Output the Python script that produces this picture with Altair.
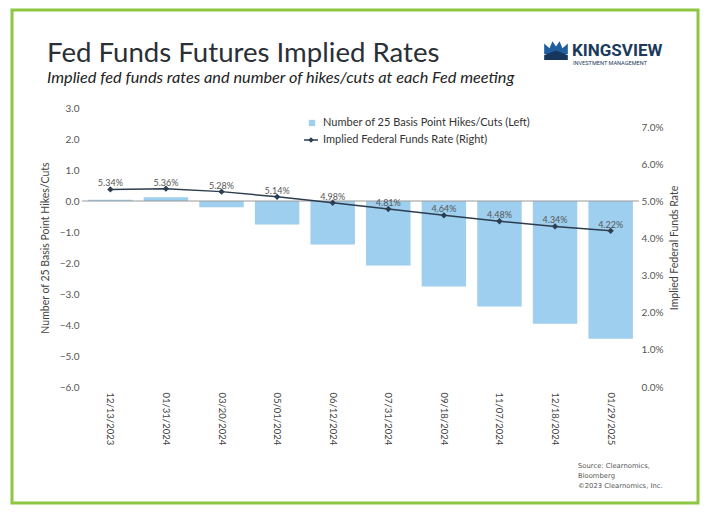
import altair as alt
import pandas as pd

# ---- data ----
dates = ["12/13/2023", "01/31/2024", "03/20/2024", "05/01/2024", "06/12/2024",
         "07/31/2024", "09/18/2024", "11/07/2024", "12/18/2024", "01/29/2025"]
hikes = [0.04, 0.12, -0.20, -0.76, -1.40, -2.08, -2.76, -3.40, -3.96, -4.44]
rates = [5.34, 5.36, 5.28, 5.14, 4.98, 4.81, 4.64, 4.48, 4.34, 4.22]
left_ticks = [-6, -5, -4, -3, -2, -1, 0, 1, 2, 3]
right_ticks = [0, 1, 2, 3, 4, 5, 6, 7]

title_text = "Fed Funds Futures Implied Rates"
subtitle_text = "Implied fed funds rates and number of hikes/cuts at each Fed meeting"
legend_bar = "Number of 25 Basis Point Hikes/Cuts (Left)"
legend_line = "Implied Federal Funds Rate (Right)"
source_lines = ["Source: Clearnomics,", "Bloomberg", "\u00a92023 Clearnomics, Inc."]

df = pd.DataFrame({"date": dates, "hikes": hikes, "rate": rates})
df["label"] = [f"{r:.2f}%" for r in rates]
one = pd.DataFrame({"k": [0]})

FONT = "Lato"
BAR = "#9ECFEF"
NAVY = "#2C3D4F"
GREEN = "#8DC640"

W, H = 557, 279

xscale = alt.Scale(paddingInner=0.2, paddingOuter=0.11)
xaxis = alt.Axis(title=None, labelAngle=90, labelFontSize=9.5, labelColor="#444",
                 labelFont=FONT, domain=False, ticks=False, labelPadding=5,
                 labelBaseline="middle", labelAlign="left", labelOverlap=False)
xenc = alt.X("date:N", sort=dates, scale=xscale, axis=xaxis)

lscale = alt.Scale(domain=[-6, 3], nice=False)
laxis = alt.Axis(values=left_ticks, format=".1f", title="Number of 25 Basis Point Hikes/Cuts",
                 titleFont=FONT, titleFontSize=10.5, titleFontWeight="normal", titleColor="#444",
                 labelFont=FONT, labelFontSize=10, labelColor="#555", labelOverlap=False,
                 domain=False, ticks=False, grid=False, labelPadding=3, titlePadding=9)

bars = alt.Chart(df).mark_bar(color=BAR).encode(
    x=xenc,
    y=alt.Y("hikes:Q", scale=lscale, axis=laxis),
)
zero = alt.Chart(one).mark_rule(color="#999", strokeWidth=1).encode(
    y=alt.Y(datum=0, scale=lscale, axis=laxis), x=alt.value(0), x2=alt.value(W))
left = alt.layer(bars, zero)

rscale = alt.Scale(domain=[0, 7.54], nice=False, zero=True)
raxis = alt.Axis(values=right_ticks, orient="right", title="Implied Federal Funds Rate",
                 labelExpr="format(datum.value, '.1f') + '%'", labelOverlap=False,
                 titleFont=FONT, titleFontSize=10.5, titleFontWeight="normal", titleColor="#444",
                 titleAngle=270, titleBaseline="top", labelFont=FONT, labelFontSize=10,
                 labelColor="#555", domain=False, ticks=False, grid=False,
                 labelPadding=2, titlePadding=7)
yr = alt.Y("rate:Q", scale=rscale, axis=raxis)
line = alt.Chart(df).mark_line(color=NAVY, strokeWidth=1.5).encode(x=xenc, y=yr)
pts = alt.Chart(df).mark_point(shape="diamond", filled=True, color=NAVY, size=40, opacity=1).encode(
    x=xenc, y=yr)
labels = alt.Chart(df).mark_text(font=FONT, fontSize=9, color="#555", baseline="bottom", dy=-1).encode(
    x=xenc, y=yr, text="label:N")
right = alt.layer(line, pts, labels)

def txt(text, x, y, size, **kw):
    params = dict(font=FONT, fontSize=size, align="left", baseline="alphabetic", color="#333")
    params.update(kw)
    return alt.Chart(one).mark_text(**params).encode(
        x=alt.value(x), y=alt.value(y), text=alt.value(text))

title = txt(title_text, -35, -46, 27.6, color="#2B2F36")
subtitle = txt(subtitle_text, -35, -25, 16.3, fontStyle="italic", color="#222")

crown_path = ("M -1 0.35 L -1 -0.55 L -0.55 -0.15 L -0.3 -0.75 L 0 -0.3 L 0.3 -0.75 "
              "L 0.55 -0.15 L 1 -0.55 L 1 0.35 Z")
wave_path = "M -1 0.45 L 0 0.05 L 1 0.45 L 1 0.85 L -1 0.85 Z"
crown = alt.Chart(one).mark_point(shape=crown_path, filled=True, color="#1F5F9E", size=560, opacity=1).encode(
    x=alt.value(474), y=alt.value(-58))
wave = alt.Chart(one).mark_point(shape=wave_path, filled=True, color="#17365D", size=560, opacity=1).encode(
    x=alt.value(474), y=alt.value(-58))
kv = txt("KINGSVIEW", 490, -52, 17, fontWeight="bold", color="#1B3A5C", font="Roboto")
kv2 = txt("INVESTMENT MANAGEMENT", 491, -43, 5.6, color="#1B3A5C", font="Roboto")

leg_sq = alt.Chart(one).mark_point(shape="square", filled=True, color=BAR, size=40, opacity=1).encode(
    x=alt.value(230), y=alt.value(15))
leg_t1 = txt(legend_bar, 241, 15, 11, baseline="middle")
leg_rule = alt.Chart(one).mark_rule(color=NAVY, strokeWidth=1.5).encode(
    x=alt.value(222), x2=alt.value(236), y=alt.value(32))
leg_pt = alt.Chart(one).mark_point(shape="diamond", filled=True, color=NAVY, size=30, opacity=1).encode(
    x=alt.value(229), y=alt.value(32))
leg_t2 = txt(legend_line, 241, 32, 11, baseline="middle")

src = [txt(s, 496, 360 + 10 * i, 6.8, font="DejaVu Sans", color="#555") for i, s in enumerate(source_lines)]

border = alt.Chart(one).mark_rect(fill=None, stroke=GREEN, strokeWidth=3, filled=False).encode(
    x=alt.value(-70), x2=alt.value(616), y=alt.value(-98), y2=alt.value(395))

chart = alt.layer(
    left, right, title, subtitle, crown, wave, kv, kv2,
    leg_sq, leg_t1, leg_rule, leg_pt, leg_t2, *src, border
).resolve_scale(y="independent").properties(
    width=W, height=H,
    padding={"left": 74, "top": 100, "right": 62, "bottom": 119},
    autosize=alt.AutoSizeParams(type="none"),
    background="white",
).configure_view(stroke=None)

chart.save("out.html", embed_options={"renderer": "svg", "actions": False})
